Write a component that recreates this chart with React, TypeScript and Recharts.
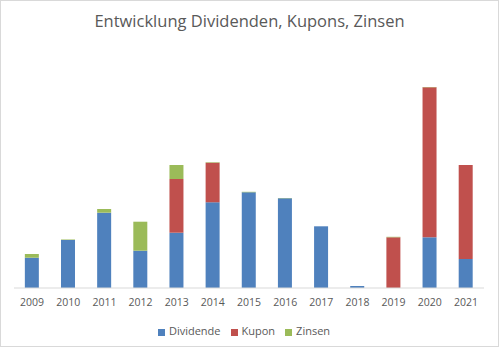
import React from 'react';
import { BarChart, Bar, XAxis, YAxis, Legend } from 'recharts';

const years = ['2009', '2010', '2011', '2012', '2013', '2014', '2015', '2016', '2017', '2018', '2019', '2020', '2021'];
const dividende = [30.3, 48, 75.3, 37.3, 55.3, 85.7, 95.7, 89.7, 61.7, 2, 0, 50.7, 29];
const kupon = [0, 0, 0, 0, 53.7, 39.6, 0, 0, 0, 0, 50.7, 150, 94];
const zinsen = [3.7, 0.5, 3.7, 29, 14, 0.5, 0.5, 0.3, 0, 0, 0.5, 0.3, 0];

const chartData = years.map((year, i) => ({
  year,
  Dividende: dividende[i],
  Kupon: kupon[i],
  Zinsen: zinsen[i],
}));

const font = '"Open Sans", "Noto Sans", sans-serif';

const App: React.FC = () => {
  return (
    <div style={{
      position: 'absolute',
      left: 0,
      top: 0,
      width: 499,
      height: 351,
      background: 'white',
      fontFamily: font,
    }}>
      {/* Rahmen wie im Excel-Diagramm */}
      <div style={{
        position: 'absolute',
        left: 0,
        top: 0,
        width: 497,
        height: 345,
        border: '1px solid #d9d9d9',
      }} />
      <div style={{
        position: 'absolute',
        top: 9,
        left: 0,
        width: '100%',
        textAlign: 'center',
        fontSize: 16.5,
        color: '#595959',
      }}>
        Entwicklung Dividenden, Kupons, Zinsen
      </div>
      <div style={{ position: 'absolute', left: 0, top: 0 }}>
        <BarChart
          width={499}
          height={351}
          data={chartData}
          margin={{ top: 68, right: 15, left: 14, bottom: 2 }}
          barCategoryGap="30%"
        >
          <XAxis
            dataKey="year"
            height={35}
            tickLine={false}
            tickMargin={5}
            axisLine={{ stroke: '#d9d9d9' }}
            tick={{ fontSize: 10.5, fill: '#595959', fontFamily: font }}
            interval={0}
          />
          <YAxis hide domain={[0, 220]} />
          <Legend
            verticalAlign="bottom"
            height={26}
            iconType="square"
            iconSize={7}
            wrapperStyle={{ fontSize: 11, fontFamily: font }}
            formatter={(value: string) => <span style={{ color: '#595959' }}>{value}</span>}
          />
          <Bar dataKey="Dividende" stackId="a" fill="#4F81BD" isAnimationActive={false} />
          <Bar dataKey="Kupon" stackId="a" fill="#C0504D" isAnimationActive={false} />
          <Bar dataKey="Zinsen" stackId="a" fill="#9BBB59" isAnimationActive={false} />
        </BarChart>
      </div>
    </div>
  );
};

export default App;
